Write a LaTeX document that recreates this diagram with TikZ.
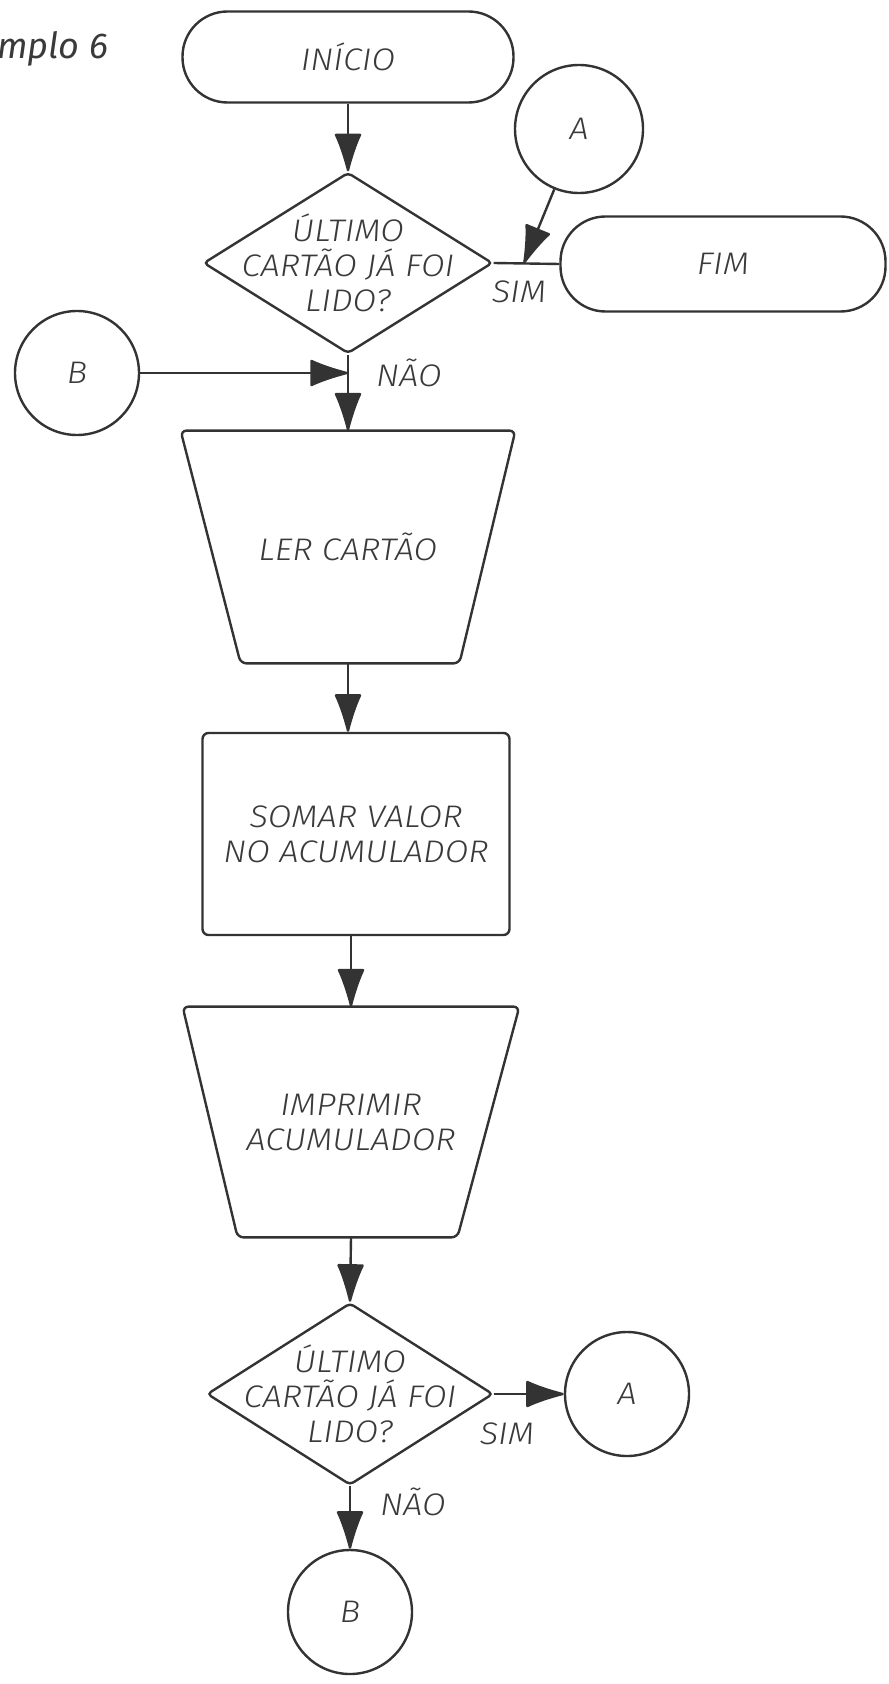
\documentclass[tikz,border=0pt]{standalone}
\usepackage{fontspec}
\setmainfont{Fira Sans}[UprightFont=* Light, ItalicFont=* Light Italic, FakeStretch=1.1]
\newfontfamily\titlefont{Fira Sans}
\usetikzlibrary{shapes.geometric,arrows.meta}

\definecolor{ink}{HTML}{333333}
\definecolor{txt}{HTML}{3A3A3A}

\tikzset{
  lbl/.style={font=\fontsize{15.6}{17.5}\selectfont\itshape, text=txt, inner sep=0pt, align=center},
  box/.style={lbl, draw=ink, line width=1.2pt},
  term/.style={box, rectangle, rounded corners=22.5pt},
  decision/.style={draw=ink, line width=1.2pt, diamond, inner sep=0pt, rounded corners=2pt},
  conn/.style={box, circle},
  readbox/.style={lbl, rectangle},
  outline/.style={draw=ink, line width=1.2pt, rounded corners=3pt},
  proc/.style={box, rectangle, rounded corners=3pt},
  wire/.style={draw=ink, line width=1.2pt},
  flow/.style={wire, -{Latex[length=21pt,width=14pt,round]}},
}

\begin{document}
\begin{tikzpicture}[x=0.5pt, y=-0.5pt]
\useasboundingbox (0,0) rectangle (888,1684);

% heading, cut at the page edge
\node[font=\fontsize{18}{21}\titlefont\itshape, text=txt, inner sep=0pt, anchor=base west] (title) at (-3,59) {mplo 6};

% top part
\node[term, minimum width=165.5pt, minimum height=45.5pt] (inicio) at (348,57) {INÍCIO};
\node[decision, minimum width=144.5pt, minimum height=90.5pt] (d1) at (348,263) {};
\node[lbl] (d1t) at (d1.center) {ÚLTIMO\\CARTÃO JÁ FOI\\LIDO?};
\node[conn, minimum size=64pt] (a1) at (579,129) {A};
\node[term, minimum width=162.5pt, minimum height=47.5pt] (fim) at (723,264) {FIM};
\node[conn, minimum size=62pt] (b1) at (77,373) {B};

% processing blocks (input/output blocks drawn as trapezoids round their nodes)
\node[readbox, minimum width=167pt, minimum height=116pt] (ler) at (348,547) {LER CARTÃO};
\draw[outline] (ler.north west) -- (ler.north east) -- ([xshift=-28pt]ler.south east)
  -- ([xshift=30pt]ler.south west) -- cycle;
\node[proc, minimum width=153.5pt, minimum height=101pt] (somar) at (356,834) {SOMAR VALOR\\NO ACUMULADOR};
\node[readbox, minimum width=168pt, minimum height=115pt] (impr) at (351,1122) {IMPRIMIR\\ACUMULADOR};
\draw[outline] (impr.north west) -- (impr.north east) -- ([xshift=-31pt]impr.south east)
  -- ([xshift=27.5pt]impr.south west) -- cycle;

% bottom test
\node[decision, minimum width=143pt, minimum height=91pt] (d2) at (350,1394) {};
\node[lbl] (d2t) at (d2.center) {ÚLTIMO\\CARTÃO JÁ FOI\\LIDO?};
\node[conn, minimum size=62pt] (a2) at (627,1394) {A};
\node[conn, minimum size=62pt] (b2) at (350,1612) {B};

% branch labels
\node[lbl] (sim1) at (519,292) {SIM};
\node[lbl] (nao1) at (409,373) {NÃO};
\node[lbl] (sim2) at (507,1434) {SIM};
\node[lbl] (nao2) at (413,1502) {NÃO};

% junctions
\coordinate (j1) at (d1.south |- b1.east);
\path (d1.east) -- (fim.west) coordinate[pos=0.46] (j2);

% connectors
\draw[flow] (inicio.south) -- (d1.north);
\draw[flow] (d1.south) -- (ler.north);
\draw[flow] (b1.east) -- (j1);
\draw[wire] (d1.east) -- (fim.west);
\draw[flow] (a1) -- (j2);
\draw[flow] (ler.south) -- (ler.south |- somar.north);
\draw[flow] (impr.north |- somar.south) -- (impr.north);
\draw[flow] (impr.south) -- (d2.north);
\draw[flow] (d2.east) -- (a2.west);
\draw[flow] (d2.south) -- (b2.north);
\end{tikzpicture}
\end{document}
